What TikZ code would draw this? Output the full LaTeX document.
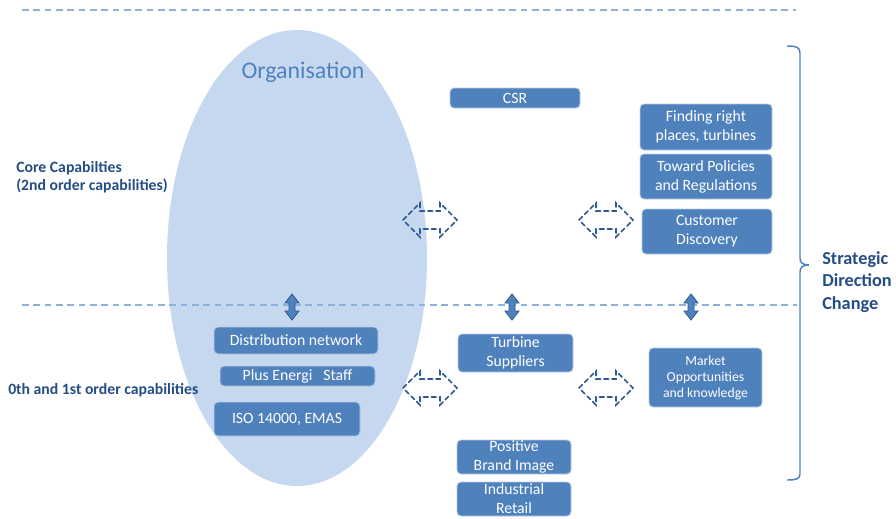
\documentclass[tikz,border=0pt]{standalone}
\usepackage{fontspec}
\setmainfont{Carlito}
\definecolor{boxblue}{HTML}{4F81BD}
\definecolor{ellblue}{HTML}{C6D8F0}
\definecolor{lbltext}{HTML}{254D85}
\definecolor{orgtext}{HTML}{4F81BD}
\definecolor{dashblue}{HTML}{8DB0DC}
\definecolor{arrdark}{HTML}{2F5A8E}
\tikzset{
  box/.style={rounded corners=3pt, fill=boxblue, draw=boxblue!40!white, line width=0.6pt,
    text=white, inner sep=0pt, align=center, font=\fontsize{11.8}{14.3}\selectfont},
  sectext/.style={text=lbltext, font=\bfseries\fontsize{11.8}{13.5}\selectfont, anchor=west, align=left, inner sep=0pt},
  divider/.style={dashblue, line width=1.1pt, dash pattern=on 5pt off 3.5pt},
  hollowarrow/.style={draw=arrdark, line width=1.3pt, dash pattern=on 3.5pt off 2.5pt, line cap=round},
  vertarrow/.style={fill=boxblue, draw=arrdark, line width=0.6pt},
}
\newcommand\harrowshape[2]{\draw[hollowarrow,shift={(#1,#2)}] (-27,0) -- (-10,-17) -- (-10,-9) -- (10,-9) -- (10,-17) -- (27,0) -- (10,17) -- (10,9) -- (-10,9) -- (-10,17) -- cycle;}
\newcommand\varrowshape[2]{\draw[vertarrow,shift={(#1,#2)}] (0,-13) -- (7,-4) -- (3,-4) -- (3,4) -- (7,4) -- (0,13) -- (-7,4) -- (-3,4) -- (-3,-4) -- (-7,-4) -- cycle;}
\begin{document}
\begin{tikzpicture}[x=0.75pt,y=-0.75pt]
\useasboundingbox (0,0) rectangle (896,518);
% ellipse
\fill[ellblue] (297,258) ellipse [x radius=130, y radius=228];
\node[text=orgtext, font=\fontsize{17.9}{20}\selectfont, inner sep=0pt] (org) at (303,72) {Organisation};
% dividers
\draw[divider] (22,10) -- (796,10);
\draw[divider] (22,305) -- (797,305);
% section labels
\node[sectext] (core) at (16,177) {Core Capabilties\\(2nd order capabilities)};
\node[sectext] (zero) at (8,390) {0th and 1st order capabilities};
% upper boxes
\node[box, minimum width=130*0.75pt, minimum height=20*0.75pt] (csr) at (515,98) {CSR};
\node[box, minimum width=132*0.75pt, minimum height=46*0.75pt] (find) at (706,127) {Finding right\\places, turbines};
\node[box, minimum width=132*0.75pt, minimum height=45*0.75pt] (pol) at (706,176.5) {Toward Policies\\and Regulations};
\node[box, minimum width=130*0.75pt, minimum height=45*0.75pt] (cust) at (707,231.5) {Customer\\Discovery};
% lower boxes
\node[box, minimum width=164*0.75pt, minimum height=27*0.75pt] (dist) at (296,340.5) {Distribution network};
\node[box, minimum width=155*0.75pt, minimum height=20*0.75pt] (staff) at (297.5,376) {Plus Energi\hspace{0.7em}Staff};
\node[box, minimum width=146*0.75pt, minimum height=34*0.75pt] (iso) at (287,419) {ISO 14000, EMAS};
\node[box, minimum width=115*0.75pt, minimum height=38*0.75pt] (turb) at (515.5,353) {Turbine\\Suppliers};
\node[box, minimum width=113*0.75pt, minimum height=59*0.75pt, font=\fontsize{10.3}{12}\selectfont] (mkt) at (705.5,377.5) {Market\\Opportunities\\and knowledge};
\node[box, minimum width=114*0.75pt, minimum height=34*0.75pt] (brand) at (514,457) {Positive\\Brand Image};
\node[box, minimum width=114*0.75pt, minimum height=34*0.75pt] (retail) at (514,499) {Industrial\\Retail};
% hollow dashed double arrows
\harrowshape{430}{220}
\harrowshape{606}{220}
\harrowshape{430}{388}
\harrowshape{606}{388}
% vertical double arrows
\varrowshape{292}{307}
\varrowshape{512}{307}
\varrowshape{691}{307}
% bracket
\draw[boxblue, line width=1.1pt] (787,46) .. controls (796,46) and (800,47) .. (800,53) -- (800,258) .. controls (800,263) and (803,265) .. (809,265) .. controls (803,265) and (800,267) .. (800,272) -- (800,474) .. controls (800,479) and (796,480) .. (787,480);
\node[text=lbltext, font=\bfseries\fontsize{13.7}{17}\selectfont, anchor=west, align=left, inner sep=0pt] (sdc) at (822,282) {Strategic\\Direction\\Change};
\end{tikzpicture}
\end{document}
